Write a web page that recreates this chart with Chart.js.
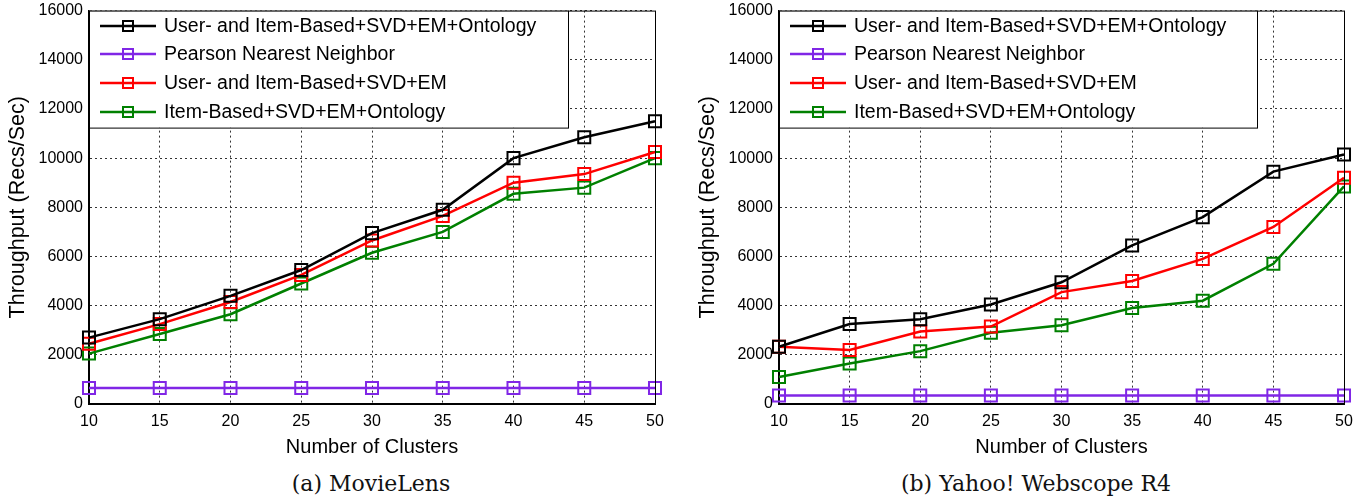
<!DOCTYPE html>
<html><head><meta charset="utf-8">
<script src="https://cdn.jsdelivr.net/npm/chart.js@4"></script>
<style>
html,body{margin:0;padding:0;background:#fff;width:1369px;height:502px;overflow:hidden;position:relative}
.box{position:absolute;top:-5px}
.cap{position:absolute;top:466px;height:36px;line-height:36px;font-family:"DejaVu Serif",serif;font-size:22px;color:#111;text-align:center;width:300px;white-space:nowrap}
</style></head><body>
<div class="box" style="left:0;width:680px;height:471px"><canvas id="c1" width="680" height="471"></canvas></div>
<div class="box" style="left:690px;width:679px;height:471px"><canvas id="c2" width="679" height="471"></canvas></div>
<div class="cap" style="left:221px">(a) MovieLens</div>
<div class="cap" style="left:886px">(b) Yahoo! Webscope R4</div>
<script>
const clusters = [10, 15, 20, 25, 30, 35, 40, 45, 50];
const seriesNames = [
  'User- and Item-Based+SVD+EM+Ontology',
  'Pearson Nearest Neighbor',
  'User- and Item-Based+SVD+EM',
  'Item-Based+SVD+EM+Ontology'
];
const yTicks = [0, 2000, 4000, 6000, 8000, 10000, 12000, 14000, 16000];

// (a) MovieLens
const movieFull     = [2700, 3450, 4400, 5450, 6950, 7900, 10000, 10850, 11500];
const moviePearson  = [650, 650, 650, 650, 650, 650, 650, 650, 650];
const movieUserItem = [2450, 3250, 4150, 5250, 6650, 7650, 9000, 9350, 10250];
const movieItem     = [2050, 2850, 3650, 4900, 6150, 7000, 8550, 8800, 10000];

// (b) Yahoo! Webscope R4
const yahooFull     = [2330, 3250, 3450, 4050, 4950, 6450, 7600, 9450, 10150];
const yahooPearson  = [350, 350, 350, 350, 350, 350, 350, 350, 350];
const yahooUserItem = [2330, 2200, 2950, 3150, 4550, 5000, 5900, 7200, 9200];
const yahooItem     = [1100, 1650, 2150, 2900, 3200, 3900, 4200, 5700, 8850];

const colors = ['#000000', '#8026e6', '#ff0000', '#008000'];
const SANS = '"Liberation Sans", Arial, sans-serif';
Chart.defaults.font.family = SANS;
Chart.defaults.color = '#000';

const boxLegend = {
  id: 'boxLegend',
  afterDraw(chart, args, opts) {
    const ctx = chart.ctx, a = chart.chartArea;
    ctx.save();
    ctx.setLineDash([]);
    ctx.strokeStyle = '#000'; ctx.lineWidth = 1;
    ctx.beginPath();
    ctx.moveTo(a.left, a.top + 0.5);
    ctx.lineTo(a.right + 0.5, a.top + 0.5);
    ctx.lineTo(a.right + 0.5, a.bottom);
    ctx.stroke();
    const x0 = a.left, y0 = a.top, w = opts.width, h = opts.height;
    ctx.fillStyle = '#fff';
    ctx.fillRect(x0, y0, w, h);
    ctx.strokeStyle = '#000'; ctx.lineWidth = 1;
    ctx.strokeRect(x0 + 0.5, y0 + 0.5, w, h);
    ctx.font = '19.5px ' + SANS;
    ctx.textBaseline = 'middle';
    ctx.textAlign = 'left';
    chart.data.datasets.forEach((ds, i) => {
      const y = Math.round(y0 + 15 + i * 28.67);
      ctx.strokeStyle = ds.borderColor; ctx.lineWidth = 2.5;
      ctx.beginPath(); ctx.moveTo(x0 + 11, y); ctx.lineTo(x0 + 67, y); ctx.stroke();
      ctx.lineWidth = 2;
      ctx.strokeRect(x0 + 39 - 5, y - 5, 10, 10);
      ctx.fillStyle = '#000';
      ctx.fillText(ds.label, x0 + 75, y + 1);
    });
    ctx.restore();
  }
};

function makeChart(id, series, legendW) {
  const datasets = series.map((vals, i) => ({
    label: seriesNames[i],
    data: vals,
    borderColor: colors[i],
    borderWidth: 2.5,
    pointStyle: 'rect',
    pointRadius: 8.5,
    pointBorderWidth: 2,
    pointBackgroundColor: 'rgba(0,0,0,0)',
    pointBorderColor: colors[i],
    tension: 0,
    clip: false
  }));
  return new Chart(document.getElementById(id), {
    type: 'line',
    data: { labels: clusters.map(String), datasets },
    plugins: [boxLegend],
    options: {
      responsive: false,
      animation: false,
      layout: { padding: { left: 0, right: 25, top: 5, bottom: 0 } },
      plugins: {
        legend: { display: false },
        tooltip: { enabled: false },
        boxLegend: { width: legendW, height: 117 }
      },
      scales: {
        x: {
          type: 'category',
          offset: false,
          grid: { color: '#333', lineWidth: 1, drawTicks: false },
          border: { display: true, color: '#000', width: 2, dash: [2, 3] },
          ticks: { font: { size: 16 }, color: '#000', padding: 8, maxRotation: 0 },
          title: { display: true, text: 'Number of Clusters', font: { size: 20 }, color: '#000', padding: { top: 0, bottom: 7 } },
          afterFit(s) { s.height = 62; }
        },
        y: {
          min: 0, max: 16000,
          afterBuildTicks(s) { s.ticks = yTicks.map(v => ({ value: v })); },
          grid: { color: '#333', lineWidth: 1, drawTicks: false },
          border: { display: true, color: '#000', width: 2, dash: [2, 3] },
          ticks: { font: { size: 16 }, color: '#000', padding: 6, callback: v => String(v) },
          title: { display: true, text: 'Throughput (Recs/Sec)', font: { size: 21.5 }, color: '#000', padding: { top: 5, bottom: 0 } },
          afterFit(s) { s.width = 89; }
        }
      }
    }
  });
}

makeChart('c1', [movieFull, moviePearson, movieUserItem, movieItem], 479);
makeChart('c2', [yahooFull, yahooPearson, yahooUserItem, yahooItem], 478);
</script>
</body></html>
